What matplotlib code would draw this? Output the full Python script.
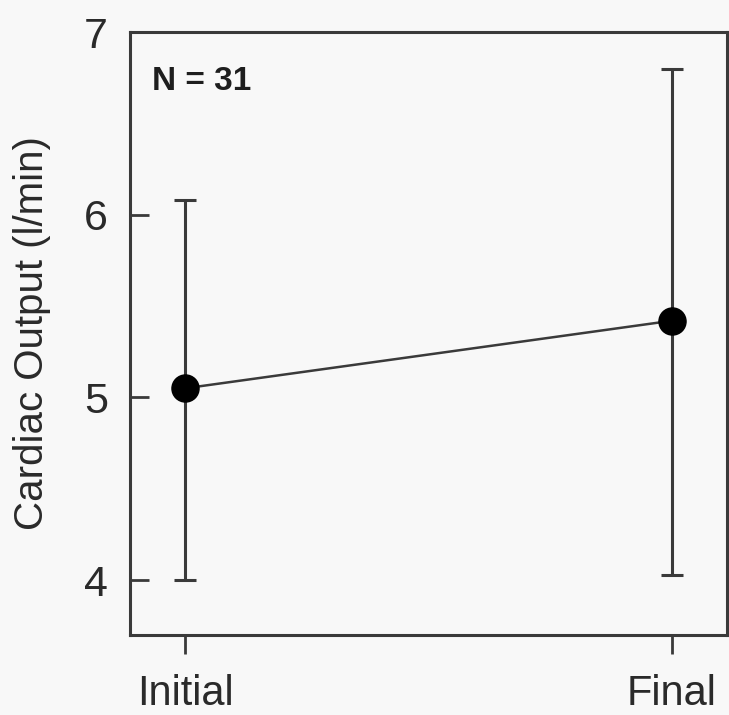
import numpy as np
import matplotlib
matplotlib.use('Agg')
import matplotlib.pyplot as plt

plt.rcParams['font.family'] = ['Liberation Sans', 'DejaVu Sans']

# cardiac output, mean and range for the two visits
phases = ['Initial', 'Final']
co_mean = [5.05, 5.42]
co_low = [4.00, 4.03]
co_high = [6.08, 6.80]
n_subjects = 31

fig = plt.figure(figsize=(7.29, 7.15), dpi=100)
fig.patch.set_facecolor('#f8f8f8')
ax = fig.add_axes([0.1783, 0.1119, 0.8190, 0.8433])
ax.set_facecolor('#f8f8f8')

x = np.arange(len(phases))
mean = np.array(co_mean)
yerr = [mean - np.array(co_low), np.array(co_high) - mean]

ink = '#3a3a3a'
ax.errorbar(x, mean, yerr=yerr, fmt='none', ecolor=ink, elinewidth=2.2,
            capsize=8, capthick=2.2, zorder=2)
ax.plot(x, mean, '-', color=ink, lw=1.8, zorder=3)
ax.plot(x, mean, 'o', color='black', ms=19.5, zorder=4)

ax.set_xlim(-0.113, 1.113)
ax.set_ylim(3.7, 7.0)
ax.set_xticks(x)
ax.set_xticklabels(phases)
ax.set_yticks([4, 5, 6, 7])

for s in ax.spines.values():
    s.set_linewidth(2.2)
    s.set_color(ink)

ax.tick_params(axis='y', direction='in', length=14, width=2, color=ink,
               labelsize=31, pad=16, labelcolor='#2a2a2a')
ax.tick_params(axis='x', direction='out', length=14, width=2, color=ink,
               labelsize=30, pad=14, labelcolor='#2a2a2a')

ax.set_ylabel('Cardiac Output (l/min)', fontsize=29, color='#2a2a2a')
ax.yaxis.set_label_coords(-0.132, 0.5)

ax.text(0.037, 0.904, 'N = %d' % n_subjects, transform=ax.transAxes,
        fontsize=24, fontweight='bold', va='baseline', ha='left', color='#1e1e1e')

fig.savefig('out.png', dpi=100, facecolor=fig.get_facecolor())
